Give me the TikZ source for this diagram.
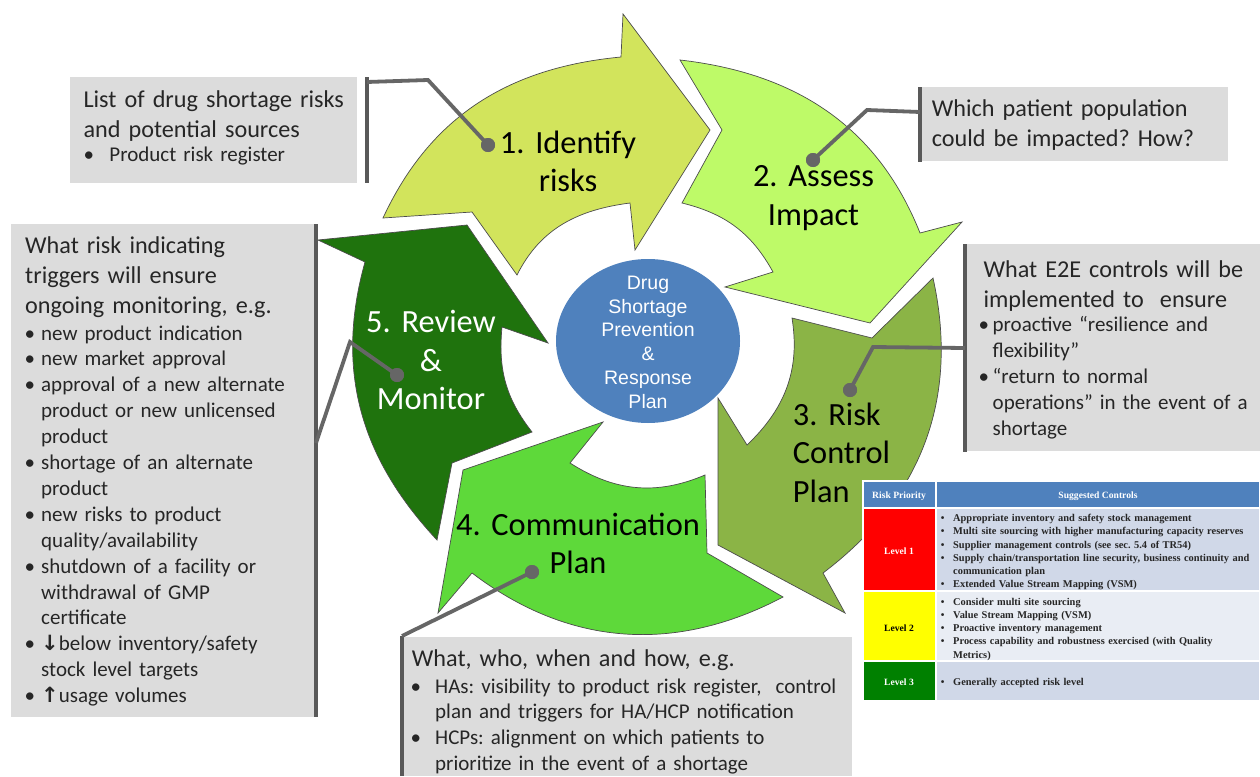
\documentclass[tikz,border=0pt]{standalone}
\usepackage{fontspec}
\setmainfont{Carlito}
\newfontfamily\arialf{Liberation Sans}
\newfontfamily\timesf{Liberation Serif}
\newfontfamily\dejavuf{DejaVu Sans}
\usetikzlibrary{shapes.geometric}
\definecolor{aone}{HTML}{D2E45C}
\definecolor{atwo}{HTML}{BEFA68}
\definecolor{athree}{HTML}{8BB446}
\definecolor{afour}{HTML}{5ED93A}
\definecolor{afive}{HTML}{1F730D}
\definecolor{hubc}{HTML}{4F81BD}
\definecolor{boxc}{HTML}{DCDCDC}
\definecolor{barc}{HTML}{595959}
\definecolor{connc}{HTML}{666666}
\definecolor{txtc}{HTML}{262626}
\definecolor{hdrc}{HTML}{4F81BD}
\definecolor{rowa}{HTML}{D0D8E8}
\definecolor{rowb}{HTML}{E9EDF4}
\definecolor{lvlone}{HTML}{FF0000}
\definecolor{lvltwo}{HTML}{FFFF00}
\definecolor{lvlthree}{HTML}{008000}
\newcommand{\mybul}[1]{\makebox[#1][l]{\hspace*{-0.12em}•}}
\newcommand{\myind}[1]{\hspace*{#1}}
\begin{document}
\frenchspacing
\begin{tikzpicture}[x=1pt,y=1pt,
  arr/.style={draw=black!70, line width=0.7pt, line join=miter},
  conn/.style={draw=connc, line width=3.8pt},
  bar/.style={draw=barc, line width=4.5pt},
  dotn/.style={circle, fill=connc, minimum size=14pt, inner sep=0pt},
  boxbg/.style={fill=boxc},
  lbl/.style={font=\fontsize{32.4}{38.5}\selectfont, text width=300pt, align=center, inner sep=0pt, anchor=base},
  lbll/.style={font=\fontsize{32.4}{38.5}\selectfont, text width=200pt, align=left, inner sep=0pt, anchor=base west},
  head/.style={font=\fontsize{24.2}{30}\selectfont, text=txtc, inner sep=0pt, anchor=base west, text width=600pt, align=left},
  bul/.style={font=\fontsize{21}{25.9}\selectfont, text=txtc, inner sep=0pt, anchor=base west, text width=600pt, align=left},
  hubtxt/.style={font=\arialf\fontsize{19.5}{23.8}\selectfont, text=white, text width=150pt, align=center, inner sep=0pt, anchor=base},
  tabtxt/.style={font=\timesf\bfseries\fontsize{10.4}{13.2}\selectfont, text=black!85, inner sep=0pt, anchor=base west, text width=400pt, align=left},
  tabhd/.style={font=\timesf\bfseries\fontsize{9.6}{12}\selectfont, inner sep=0pt, anchor=base}
]
\useasboundingbox (0,0) rectangle (1260,-776);
\fill[white] (0,0) rectangle (1260,-776);

% ---- cycle arrows ----
\path[arr, fill=aone] (383,-218) -- (472,-212) -- (517,-275) to[out=63.3,in=187.4] (630,-203) -- (635,-250) -- (710,-130) -- (623,-14) -- (621,-57) to[out=185.4,in=65.1] (383,-218) -- cycle;
\path[arr, fill=atwo] (680,-60) -- (722,-130) -- (682,-203) to[out=-13.8,in=118.9] (773,-272) -- (725,-287) -- (870,-323) -- (962,-222) -- (920,-233) to[out=111.7,in=-6.5] (680,-60) -- cycle;
\path[arr, fill=athree] (933,-278) -- (872,-338) -- (792,-318) to[out=-80.9,in=43.6] (747,-445) -- (718,-398) -- (718,-545) -- (845,-613) -- (823,-573) to[out=37,in=-77.5] (933,-278) -- cycle;
\path[arr, fill=afour] (783,-597) -- (707,-553) -- (705,-475) to[out=-157,in=-32.6] (570,-463) -- (603,-422) -- (463,-470) -- (438,-613) -- (472,-573) to[out=-37.2,in=207.8] (783,-597) -- cycle;
\path[arr, fill=afive] (437,-540) -- (452,-463) -- (532,-432) to[out=128.1,in=264.5] (502,-327) -- (548,-343) -- (467,-225) -- (318,-240) -- (365,-262) to[out=254.4,in=133] (437,-540) -- cycle;

% ---- hub ----
\node[ellipse, fill=hubc, minimum width=184pt, minimum height=164pt, inner sep=0pt] (hub) at (648,-341) {};
\node[hubtxt] (hubt) at (648,-289.3) {Drug\\Shortage\\Prevention\\\&\\Response\\Plan};

% ---- arrow labels ----
\node[lbl] (l1) at (568,-153.3) {1. Identify\\risks};
\node[lbl] (l2) at (813.5,-186.7) {2. Assess\\Impact};
\node[lbll] (l3) at (792.7,-425) {3. Risk\\Control\\Plan};
\node[lbl] (l4) at (578,-535) {4. Communication\\Plan};
\node[lbl, text=white] (l5) at (431,-332.7) {5. Review\\\&\\Monitor};

% ---- callout boxes ----
\fill[boxbg] (70,-77) rectangle (357,-183);
\fill[boxbg] (918,-87) rectangle (1228,-161);
\fill[boxbg] (965,-244) rectangle (1260,-451);
\fill[boxbg] (400,-637) rectangle (852,-776);
\fill[boxbg] (11,-224) rectangle (316,-717);

\draw[bar] (367,-77) -- (367,-183);
\draw[bar] (920,-87) -- (920,-162);
\draw[bar] (965,-244) -- (965,-452);
\draw[bar] (402,-636) -- (402,-776);
\draw[bar] (316,-224) -- (316,-717);

% ---- connectors ----
\coordinate (c1a) at (367,-82);
\coordinate (c1b) at (428,-80);
\coordinate (c2a) at (920,-112);
\coordinate (c2b) at (867,-110);
\coordinate (c3a) at (965,-348);
\coordinate (c3b) at (873,-347);
\coordinate (c4a) at (402,-636);
\coordinate (c5a) at (316,-443);
\coordinate (c5b) at (350,-342);
\node[dotn] (d1) at (488,-145) {};
\node[dotn] (d2) at (813,-160) {};
\node[dotn] (d3) at (850,-390) {};
\node[dotn] (d4) at (532,-572) {};
\node[dotn] (d5) at (397,-375) {};
\draw[conn] (d1.center) -- (c1b) -- (c1a);
\draw[conn] (d2.center) -- (c2b) -- (c2a);
\draw[conn] (d3.center) -- (c3b) -- (c3a);
\draw[conn] (d4.center) -- (c4a);
\draw[conn] (d5.center) -- (c5b) -- (c5a);
\node[dotn] (d1t) at (d1) {};
\node[dotn] (d2t) at (d2) {};
\node[dotn] (d3t) at (d3) {};
\node[dotn] (d4t) at (d4) {};
\node[dotn] (d5t) at (d5) {};

% ---- callout texts ----
\node[head] (t1h) at (83.3,-107.3) {List of drug shortage risks\\and potential sources};
\node[bul] (t1b) at (86,-161.7) {\mybul{23.3pt}Product risk register};

\node[head] (t2h) at (931.7,-116.7) {Which patient population\\could be impacted? How?};

\node[head] (t3h) at (983.3,-277.3) {What E2E controls will be\\implemented to\ \ ensure};
\node[bul] (t3b) at (981,-331.7) {\mybul{11.5pt}proactive “resilience and\\\myind{11.5pt}flexibility”\\\mybul{11.5pt}“return to normal\\\myind{11.5pt}operations” in the event of a\\\myind{11.5pt}shortage};

\node[head] (t4h) at (411.7,-666.7) {What, who, when and how, e.g.};
\node[bul, font=\fontsize{21}{25.6}\selectfont] (t4b) at (413,-693.3) {\mybul{22pt}HAs: visibility to product risk register,\ \ control\\\myind{22pt}plan and triggers for HA/HCP notification\\\mybul{22pt}HCPs: alignment on which patients to\\\myind{22pt}prioritize in the event of a shortage};

\node[head] (t5h) at (25,-253.3) {What risk indicating\\triggers will ensure\\ongoing monitoring, e.g.};
\node[bul] (t5b) at (27,-340) {\mybul{14pt}new product indication\\\mybul{14pt}new market approval\\\mybul{14pt}approval of a new alternate\\\myind{14pt}product or new unlicensed\\\myind{14pt}product\\\mybul{14pt}shortage of an alternate\\\myind{14pt}product\\\mybul{14pt}new risks to product\\\myind{14pt}quality/availability\\\mybul{14pt}shutdown of a facility or\\\myind{14pt}withdrawal of GMP\\\myind{14pt}certificate\\\mybul{14pt}{\dejavuf\bfseries ↓}below inventory/safety\\\myind{14pt}stock level targets\\\mybul{14pt}{\dejavuf\bfseries ↑}usage volumes};

% ---- table ----
\fill[hdrc] (863,-481) rectangle (1260,-508);
\fill[lvlone] (863,-508) rectangle (936,-591);
\fill[rowa] (936,-508) rectangle (1260,-591);
\fill[lvltwo] (863,-591) rectangle (936,-661);
\fill[rowb] (936,-591) rectangle (1260,-661);
\fill[lvlthree] (863,-661) rectangle (936,-701);
\fill[rowa] (936,-661) rectangle (1260,-701);
\draw[white, line width=1.5pt] (863,-481) rectangle (1260,-701);
\draw[white, line width=1.5pt] (936,-481) -- (936,-701);
\draw[white, line width=1.5pt] (863,-508) -- (1260,-508);
\draw[white, line width=1.5pt] (863,-591) -- (1260,-591);
\draw[white, line width=1.5pt] (863,-661) -- (1260,-661);

\node[tabhd, text=white] (th1) at (899,-498) {Risk Priority};
\node[tabhd, text=white] (th2) at (1098,-498) {Suggested Controls};
\node[tabhd, text=white] (lv1) at (899,-554) {Level 1};
\node[tabhd, text=black] (lv2) at (899,-631) {Level 2};
\node[tabhd, text=white] (lv3) at (899,-685) {Level 3};

\node[tabtxt] (r1) at (942,-521.7) {\mybul{11pt}Appropriate inventory and safety stock management\\\mybul{11pt}Multi site sourcing with higher manufacturing capacity reserves\\\mybul{11pt}Supplier management controls (see sec. 5.4 of TR54)\\\mybul{11pt}Supply chain/transportation line security, business continuity and\\\myind{11pt}communication plan\\\mybul{11pt}Extended Value Stream Mapping (VSM)};
\node[tabtxt] (r2) at (942,-605.3) {\mybul{11pt}Consider multi site sourcing\\\mybul{11pt}Value Stream Mapping (VSM)\\\mybul{11pt}Proactive inventory management\\\mybul{11pt}Process capability and robustness exercised (with Quality\\\myind{11pt}Metrics)};
\node[tabtxt] (r3) at (942,-685) {\mybul{11pt}Generally accepted risk level};
\end{tikzpicture}
\end{document}
